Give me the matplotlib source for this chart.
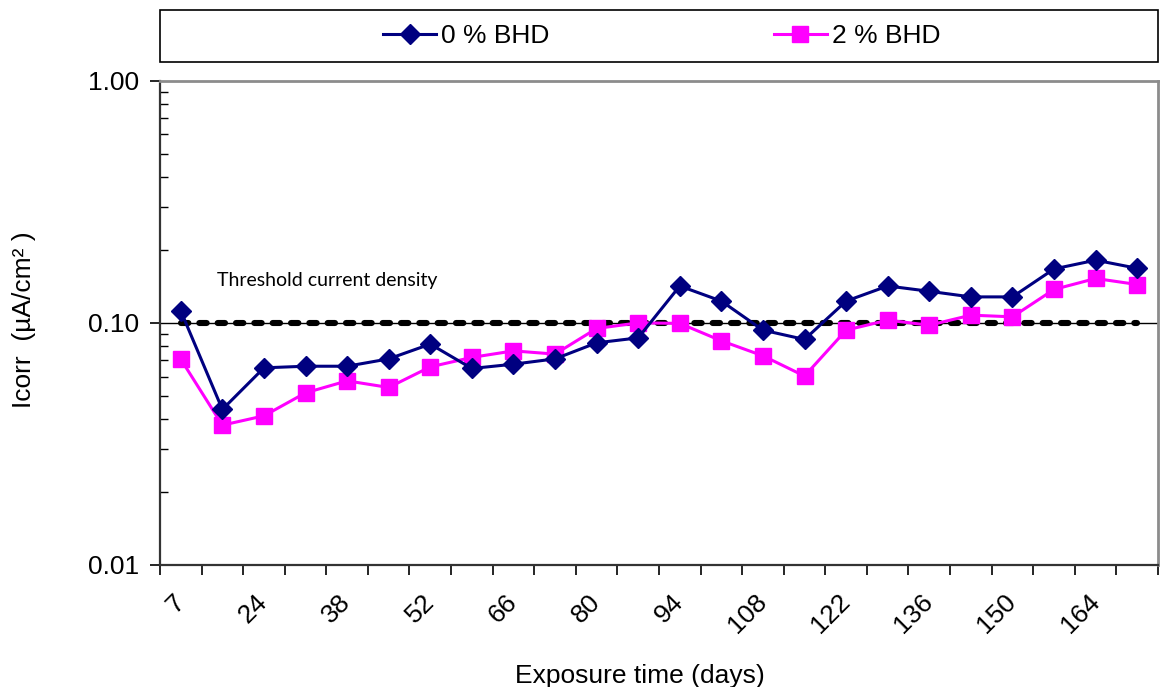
import matplotlib

matplotlib.use("Agg")
import matplotlib.pyplot as plt
from matplotlib.patches import Rectangle
from matplotlib.ticker import FixedLocator, LogLocator, NullFormatter

plt.rcParams["font.family"] = ["Liberation Sans", "DejaVu Sans"]

days = [7, 14, 24, 31, 38, 45, 52, 59, 66, 73, 80, 87,
        94, 101, 108, 115, 122, 129, 136, 143, 150, 157, 164, 171]
bhd_0 = [0.112, 0.0439, 0.0652, 0.0662, 0.0662, 0.071, 0.0817, 0.0648,
         0.0675, 0.071, 0.0827, 0.0867, 0.142, 0.123, 0.0933, 0.0854,
         0.123, 0.142, 0.135, 0.128, 0.128, 0.167, 0.1815, 0.168]
bhd_2 = [0.0708, 0.0378, 0.0413, 0.0514, 0.0576, 0.0541, 0.0658, 0.072,
         0.0766, 0.0743, 0.0948, 0.1, 0.0995, 0.0843, 0.0731, 0.0603,
         0.0933, 0.1026, 0.0978, 0.1076, 0.1059, 0.1374, 0.1525, 0.144]
threshold = 0.1
y_ticks = [0.01, 0.1, 1.0]
y_labels = ["0.01", "0.10", "1.00"]

pos = list(range(len(days)))

fig = plt.figure(figsize=(11.61, 6.87), dpi=100)
ax = fig.add_axes([0.1378, 0.1776, 0.8596, 0.7049])

ax.axhline(threshold, color="black", lw=1.0, zorder=1)
ax.plot(pos, [threshold] * len(pos), color="black", lw=4.4,
        dashes=(1.2, 1.8), dash_capstyle="round", zorder=2)
ax.plot(pos, bhd_0, color="#000080", lw=2.2, marker="D", markersize=10,
        label="0 % BHD", zorder=4)
ax.plot(pos, bhd_2, color="#FF00FF", lw=2.2, marker="s", markersize=12,
        label="2 % BHD", zorder=3)

ax.set_yscale("log")
ax.set_ylim(0.01, 1.0)
ax.set_xlim(-0.5, len(days) - 0.5)

ax.yaxis.set_major_locator(FixedLocator(y_ticks))
ax.set_yticklabels(y_labels, fontsize=19)
ax.yaxis.set_minor_locator(LogLocator(base=10, subs=range(2, 10)))
ax.yaxis.set_minor_formatter(NullFormatter())
ax.tick_params(axis="y", which="major", direction="out", length=7, width=1.2, pad=8)
ax.tick_params(axis="y", which="minor", direction="in", length=6, width=1.0)

ax.set_xticks(pos[::2])
ax.set_xticklabels([str(d) for d in days[::2]], fontsize=19, rotation=45,
                   ha="right", va="center", rotation_mode="anchor")
ax.tick_params(axis="x", which="major", length=0, pad=24)
ax.set_xticks([p - 0.5 for p in pos] + [len(days) - 0.5], minor=True)
ax.tick_params(axis="x", which="minor", direction="out", length=7, width=1.2)

for side in ["left", "bottom"]:
    ax.spines[side].set_color("#333333")
    ax.spines[side].set_linewidth(1.6)
for side in ["top", "right"]:
    ax.spines[side].set_color("#8c8c8c")
    ax.spines[side].set_linewidth(2.0)

ax.text(0.87, 0.15, "Threshold current density", fontsize=14,
        family=["Lato", "DejaVu Sans"], ha="left", va="center")

ax.set_xlabel("Exposure time (days)", fontsize=19)
ax.xaxis.set_label_coords((640 - 160) / 998, -0.204)
ax.set_ylabel("Icorr  (\u00b5A/cm\u00b2 )", fontsize=19)
ax.yaxis.set_label_coords(-0.124, 0.506)

fig.patches.append(Rectangle((0.1378, 0.9098), 0.8596, 0.0757,
                             transform=fig.transFigure, fill=False,
                             edgecolor="black", lw=1.2))
handles, labels = ax.get_legend_handles_labels()
fig.legend(handles, labels, loc="center", bbox_to_anchor=(662 / 1161, 1 - 36 / 687),
           ncol=2, frameon=False, fontsize=19, handlelength=2.0,
           handletextpad=0.2, columnspacing=8.5)

fig.savefig("out.png", dpi=100)
